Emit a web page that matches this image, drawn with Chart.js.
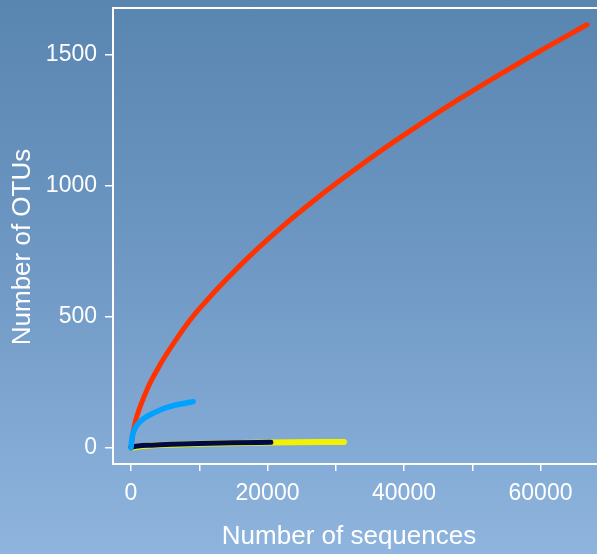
<!DOCTYPE html>
<html>
<head>
<meta charset="utf-8">
<script src="https://cdn.jsdelivr.net/npm/chart.js@4/dist/chart.umd.min.js"></script>
<style>
  html, body { margin: 0; padding: 0; }
  body {
    width: 597px; height: 554px; overflow: hidden;
    background: linear-gradient(to bottom, #5985b1 0%, #7099c5 50%, #8fb5de 100%);
  }
  canvas { display: block; }
</style>
</head>
<body>
<canvas id="courbes" width="597" height="554"></canvas>
<script>
// valeurs
const xTicks = [0, 10000, 20000, 30000, 40000, 50000, 60000]
const yTicks = [0, 500, 1000, 1500]

const seqRouge = [0, 300, 700, 1300, 2500, 3800, 5000, 7000, 9000, 11000, 13000, 17500, 22000, 27000, 31000, 36000, 42000, 48000, 54000, 60000, 66800]
const otuRouge = [0, 60, 107, 155, 232, 297, 350, 429, 500, 560, 617, 735, 841, 948, 1028, 1123, 1229, 1330, 1425, 1516, 1615]

const seqBleu = [0, 100, 300, 700, 1300, 2240, 3500, 4700, 6200, 7700, 9100]
const otuBleu = [0, 30, 56, 80, 100, 119, 136, 150, 162, 170, 177]

const seqMarine = [0, 1000, 3000, 6000, 10000, 15000, 20500]
const otuMarine = [3, 8, 11, 14, 17, 20, 22]

const seqJaune = [0, 1000, 5000, 10000, 20000, 31200]
const otuJaune = [0, 5, 12, 16, 21, 23]

const titreX = 'Number of sequences'
const titreY = 'Number of OTUs'

function points(xs, ys) {
  return xs.map((x, i) => ({ x: x, y: ys[i] }))
}

function serie(xs, ys, couleur, epaisseur) {
  return {
    data: points(xs, ys),
    borderColor: couleur,
    borderWidth: epaisseur,
    pointRadius: 0,
    cubicInterpolationMode: 'monotone',
    borderCapStyle: 'round',
    borderJoinStyle: 'round',
    clip: false,
    fill: false
  }
}

const police = "'Liberation Sans', Arial, Helvetica, sans-serif"

// cadre blanc (haut, gauche, bas) + titres des axes
const cadre = {
  id: 'cadre',
  afterDraw(chart) {
    const a = chart.chartArea
    const ctx = chart.ctx
    ctx.save()
    ctx.strokeStyle = '#ffffff'
    ctx.lineWidth = 2
    ctx.beginPath()
    ctx.moveTo(chart.width + 5, a.top)
    ctx.lineTo(a.left, a.top)
    ctx.lineTo(a.left, a.bottom)
    ctx.lineTo(chart.width + 5, a.bottom)
    ctx.stroke()

    ctx.fillStyle = '#ffffff'
    ctx.font = '26px ' + police
    ctx.textAlign = 'center'
    ctx.textBaseline = 'middle'
    ctx.fillText(titreX, 349, 537)
    ctx.translate(23, 247)
    ctx.rotate(-Math.PI / 2)
    ctx.fillText(titreY, 0, 0)
    ctx.restore()
  }
}

new Chart(document.getElementById('courbes'), {
  type: 'line',
  data: {
    datasets: [
      serie(seqBleu, otuBleu, '#00a2ff', 5.5),
      serie(seqMarine, otuMarine, '#000a45', 5),
      serie(seqRouge, otuRouge, '#ff3300', 5),
      serie(seqJaune, otuJaune, '#f2f200', 6)
    ]
  },
  options: {
    responsive: false,
    animation: false,
    devicePixelRatio: 1,
    layout: { padding: { top: 8, right: 12, left: 0, bottom: 0 } },
    plugins: { legend: { display: false }, tooltip: { enabled: false } },
    scales: {
      x: {
        type: 'linear',
        min: -2640,
        max: 66520,
        afterFit(s) { s.height = 90; s.paddingLeft = 0; s.paddingRight = 0 },
        afterBuildTicks(s) { s.ticks = xTicks.map(v => ({ value: v })) },
        border: { display: false },
        grid: { drawOnChartArea: false, drawTicks: true, tickLength: 7, tickColor: '#ffffff', lineWidth: 1.5 },
        ticks: {
          color: '#ffffff',
          padding: 9,
          maxRotation: 0,
          autoSkip: false,
          font: { family: police, size: 23 },
          callback: v => (v % 20000 === 0 ? String(v) : '')
        }
      },
      y: {
        type: 'linear',
        min: -61,
        max: 1679,
        afterFit(s) { s.width = 113; s.paddingTop = 0; s.paddingBottom = 0 },
        afterBuildTicks(s) { s.ticks = yTicks.map(v => ({ value: v })) },
        border: { display: false },
        grid: { drawOnChartArea: false, drawTicks: true, tickLength: 8, tickColor: '#ffffff', lineWidth: 1.5 },
        ticks: {
          color: '#ffffff',
          padding: 8,
          autoSkip: false,
          font: { family: police, size: 23 },
          callback: v => String(v)
        }
      }
    }
  },
  plugins: [cadre]
})
</script>
</body>
</html>
